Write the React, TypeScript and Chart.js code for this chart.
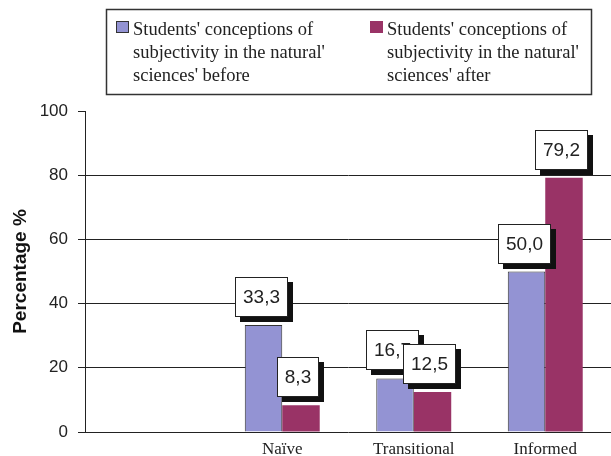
import { useEffect, useRef } from "react";
import { Chart, registerables } from "chart.js";

Chart.register(...registerables);

// Categories along the x axis (the first slot is intentionally left empty)
const categories = ["", "Naïve", "Transitional", "Informed"];

// Percentages per conception level
const beforeValues: (number | null)[] = [null, 33.3, 16.7, 50.0];
const afterValues: (number | null)[] = [null, 8.3, 12.5, 79.2];

// Legend text, one entry per series, already broken into lines
const beforeLegendLines = ["Students' conceptions of", "subjectivity in the natural'", "sciences' before"];
const afterLegendLines = ["Students' conceptions of", "subjectivity in the natural'", "sciences' after"];

const beforeColor = "#9393d3";
const afterColor = "#993366";

const SANS = "'Liberation Sans', Arial, Helvetica, sans-serif";
const SERIF = "'Liberation Serif', 'Times New Roman', serif";

// Framed legend at the top of the canvas
const legendBoxPlugin = {
  id: "legendBox",
  afterDraw(chart: any) {
    const ctx = chart.ctx as CanvasRenderingContext2D;
    ctx.save();
    ctx.strokeStyle = "#333";
    ctx.lineWidth = 1.5;
    ctx.strokeRect(106.5, 9.5, 485, 85);

    const items = [
      { x: 116, color: beforeColor, border: "#333", lines: beforeLegendLines },
      { x: 370, color: afterColor, border: afterColor, lines: afterLegendLines },
    ];
    ctx.font = `18.5px ${SERIF}`;
    ctx.textAlign = "left";
    ctx.textBaseline = "alphabetic";
    for (const it of items) {
      ctx.fillStyle = it.color;
      ctx.fillRect(it.x, 21, 13, 12);
      ctx.strokeStyle = it.border;
      ctx.lineWidth = 1;
      ctx.strokeRect(it.x + 0.5, 21.5, 12, 11);
      ctx.fillStyle = "#222";
      it.lines.forEach((line, i) => {
        ctx.fillText(line, it.x + 17, 35 + i * 23);
      });
    }
    ctx.restore();
  },
};

// Boxed value labels with a solid drop shadow above each bar
const valueBoxPlugin = {
  id: "valueBoxes",
  afterDatasetsDraw(chart: any) {
    const ctx = chart.ctx as CanvasRenderingContext2D;
    ctx.save();
    ctx.font = `19px ${SANS}`;
    chart.data.datasets.forEach((ds: any, di: number) => {
      const meta = chart.getDatasetMeta(di);
      meta.data.forEach((bar: any, i: number) => {
        const v = ds.data[i];
        if (v == null) return;
        const text = Number(v).toFixed(1).replace(".", ",");
        const tw = ctx.measureText(text).width;
        const w = Math.round(tw + 16);
        const h = 40;
        const sh = 5;
        const left = Math.round(bar.x - (w + sh) / 2);
        const top = Math.round(bar.y - 3 - sh - h);
        ctx.fillStyle = "#111";
        ctx.fillRect(left + sh, top + sh, w, h);
        ctx.fillStyle = "#fff";
        ctx.fillRect(left, top, w, h);
        ctx.strokeStyle = "#222";
        ctx.lineWidth = 1;
        ctx.strokeRect(left + 0.5, top + 0.5, w - 1, h - 1);
        ctx.fillStyle = "#222";
        ctx.textAlign = "center";
        ctx.textBaseline = "middle";
        ctx.fillText(text, left + w / 2, top + h / 2 + 1);
      });
    });
    ctx.restore();
  },
};

export default function App() {
  const canvasRef = useRef<HTMLCanvasElement | null>(null);

  useEffect(() => {
    if (!canvasRef.current) return;
    const chart = new Chart(canvasRef.current, {
      type: "bar",
      data: {
        labels: categories,
        datasets: [
          {
            label: beforeLegendLines.join(" "),
            data: beforeValues,
            backgroundColor: beforeColor,
            borderColor: "#333",
            borderWidth: 1,
          },
          {
            label: afterLegendLines.join(" "),
            data: afterValues,
            backgroundColor: afterColor,
            borderWidth: 0,
          },
        ],
      },
      options: {
        animation: false,
        responsive: false,
        maintainAspectRatio: false,
        layout: { padding: { top: 111, right: 0, bottom: 0, left: 0 } },
        datasets: {
          bar: { categoryPercentage: 0.57, barPercentage: 1 },
        },
        plugins: {
          legend: { display: false },
          tooltip: { enabled: false },
        },
        scales: {
          x: {
            grid: { display: false, drawTicks: false },
            border: { display: true, color: "#222", width: 1 },
            ticks: {
              color: "#222",
              padding: 7,
              font: { family: SERIF, size: 17 },
            },
            afterFit(scale: any) {
              scale.height = 24;
            },
          },
          y: {
            min: 0,
            max: 100,
            grid: {
              color: (c: any) => (c.tick && (c.tick.value === 100 || c.tick.value === 0) ? "rgba(0,0,0,0)" : "#222"),
              tickColor: "#222",
              tickLength: 7,
              lineWidth: 1,
            },
            border: { display: true, color: "#222", width: 1 },
            ticks: {
              stepSize: 20,
              color: "#222",
              padding: 10,
              font: { family: SANS, size: 17 },
            },
            title: {
              display: true,
              text: "Percentage %",
              color: "#111",
              font: { family: SANS, size: 19, weight: "bold" },
              padding: { top: 9, bottom: 0 },
            },
            afterFit(scale: any) {
              scale.width = 85;
            },
          },
        },
      },
      plugins: [valueBoxPlugin, legendBoxPlugin],
    });
    return () => chart.destroy();
  }, []);

  return (
    <div style={{ position: "fixed", left: 0, top: 0, width: 611, height: 456, background: "#fff" }}>
      <canvas ref={canvasRef} width={611} height={456} style={{ display: "block" }} />
    </div>
  );
}
